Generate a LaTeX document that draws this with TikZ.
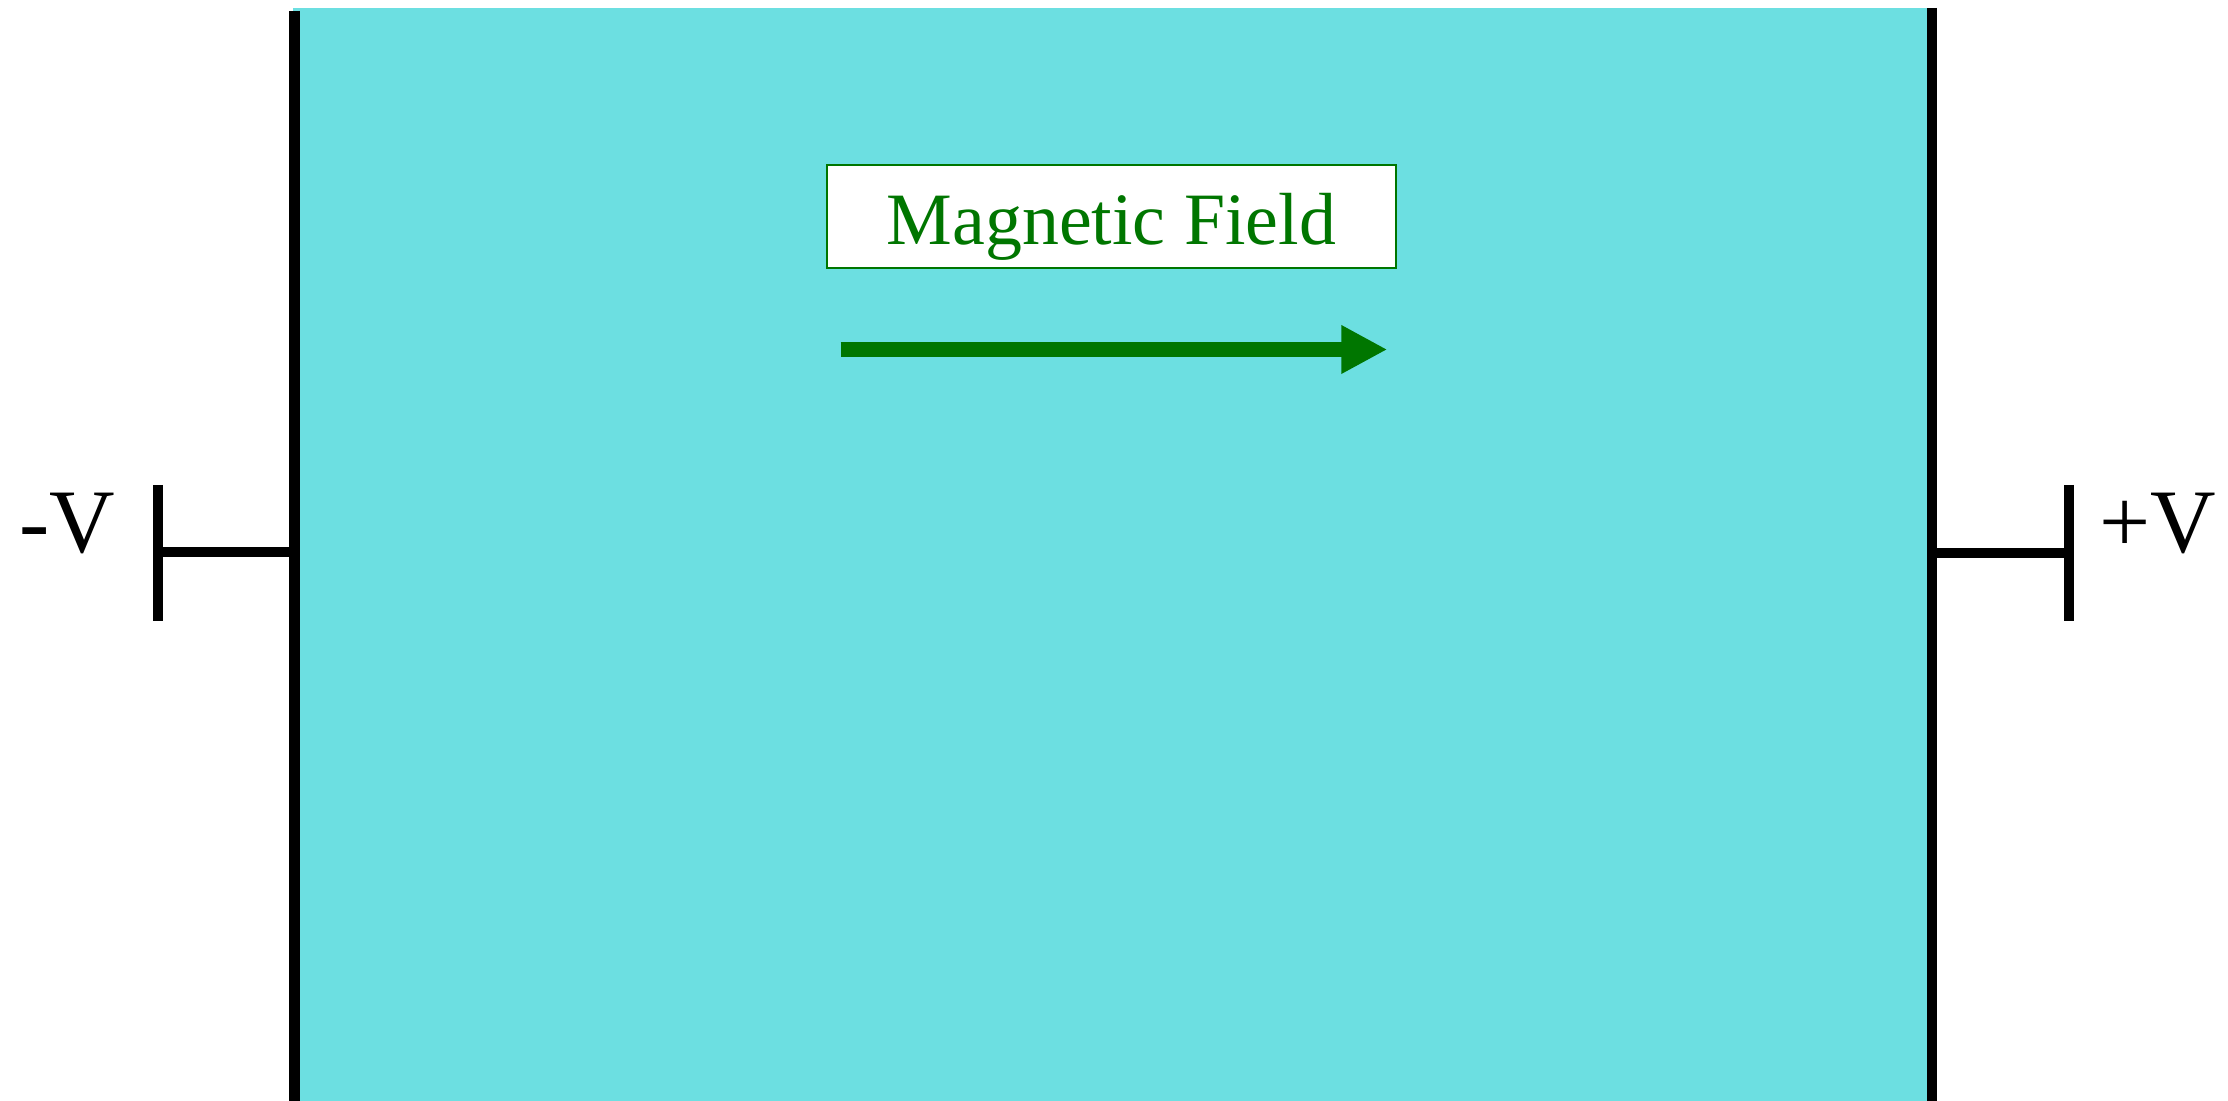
\documentclass[tikz,border=0pt]{standalone}
\usepackage{fontspec}
\setmainfont{Liberation Serif}
\usetikzlibrary{arrows.meta,positioning}
\definecolor{FieldCyan}{RGB}{108,223,225}
\definecolor{FieldGreen}{RGB}{0,118,0}

\begin{document}
\begin{tikzpicture}[
    x=0.01cm, y=-0.01cm,
    plate/.style={line width=2.85pt, black},
    lbl/.style={font=\fontsize{25.8}{30}\selectfont, inner sep=0pt},
    fieldbox/.style={draw=FieldGreen, line width=0.6pt, fill=white, text=FieldGreen,
                     font=\fontsize{21}{25}\selectfont, inner sep=0pt,
                     minimum width=5.69cm, minimum height=1.033cm,
                     text height=0.66cm, text depth=0.107cm},
    arr/.style={-{Triangle[length=4.6mm, width=4.54mm]}, line width=4.44pt, FieldGreen}
  ]
    \useasboundingbox (0,0) rectangle (2228,1101);
    % field region between the plates
    \fill[FieldCyan] (293,8) rectangle (1927,1101);

    % plates
    \coordinate (negtop) at (294.5,11);
    \coordinate (negbot) at (294.5,1101);
    \coordinate (postop) at (1932,8);
    \coordinate (posbot) at (1932,1101);
    \draw[plate] (negtop) -- (negbot);
    \draw[plate] (postop) -- (posbot);

    % terminals
    \coordinate (negbar1) at (158,485);
    \coordinate (negbar2) at (158,621);
    \coordinate (negterm) at (158,552);
    \coordinate (negplate) at (294.5,552);
    \coordinate (posbar1) at (2069,485);
    \coordinate (posbar2) at (2069,621);
    \coordinate (posterm) at (2069,553);
    \coordinate (posplate) at (1932,553);
    \draw[plate] (negbar1) -- (negbar2);
    \draw[plate] (negterm) -- (negplate);
    \draw[plate] (posbar1) -- (posbar2);
    \draw[plate] (posterm) -- (posplate);

    \node[lbl, anchor=base west] (neglabel) at (19,553) {-V};
    \node[lbl, anchor=base east] (poslabel) at (2217,553) {+V};

    % field label and direction
    \node[fieldbox] (fieldlabel) at (1111.4,216.4) {Magnetic Field};
    \coordinate (fieldtail) at (840.7,349.5);
    \coordinate (fieldtip) at (1387.3,349.5);
    \draw[arr] (fieldtail) -- (fieldtip);
\end{tikzpicture}
\end{document}
